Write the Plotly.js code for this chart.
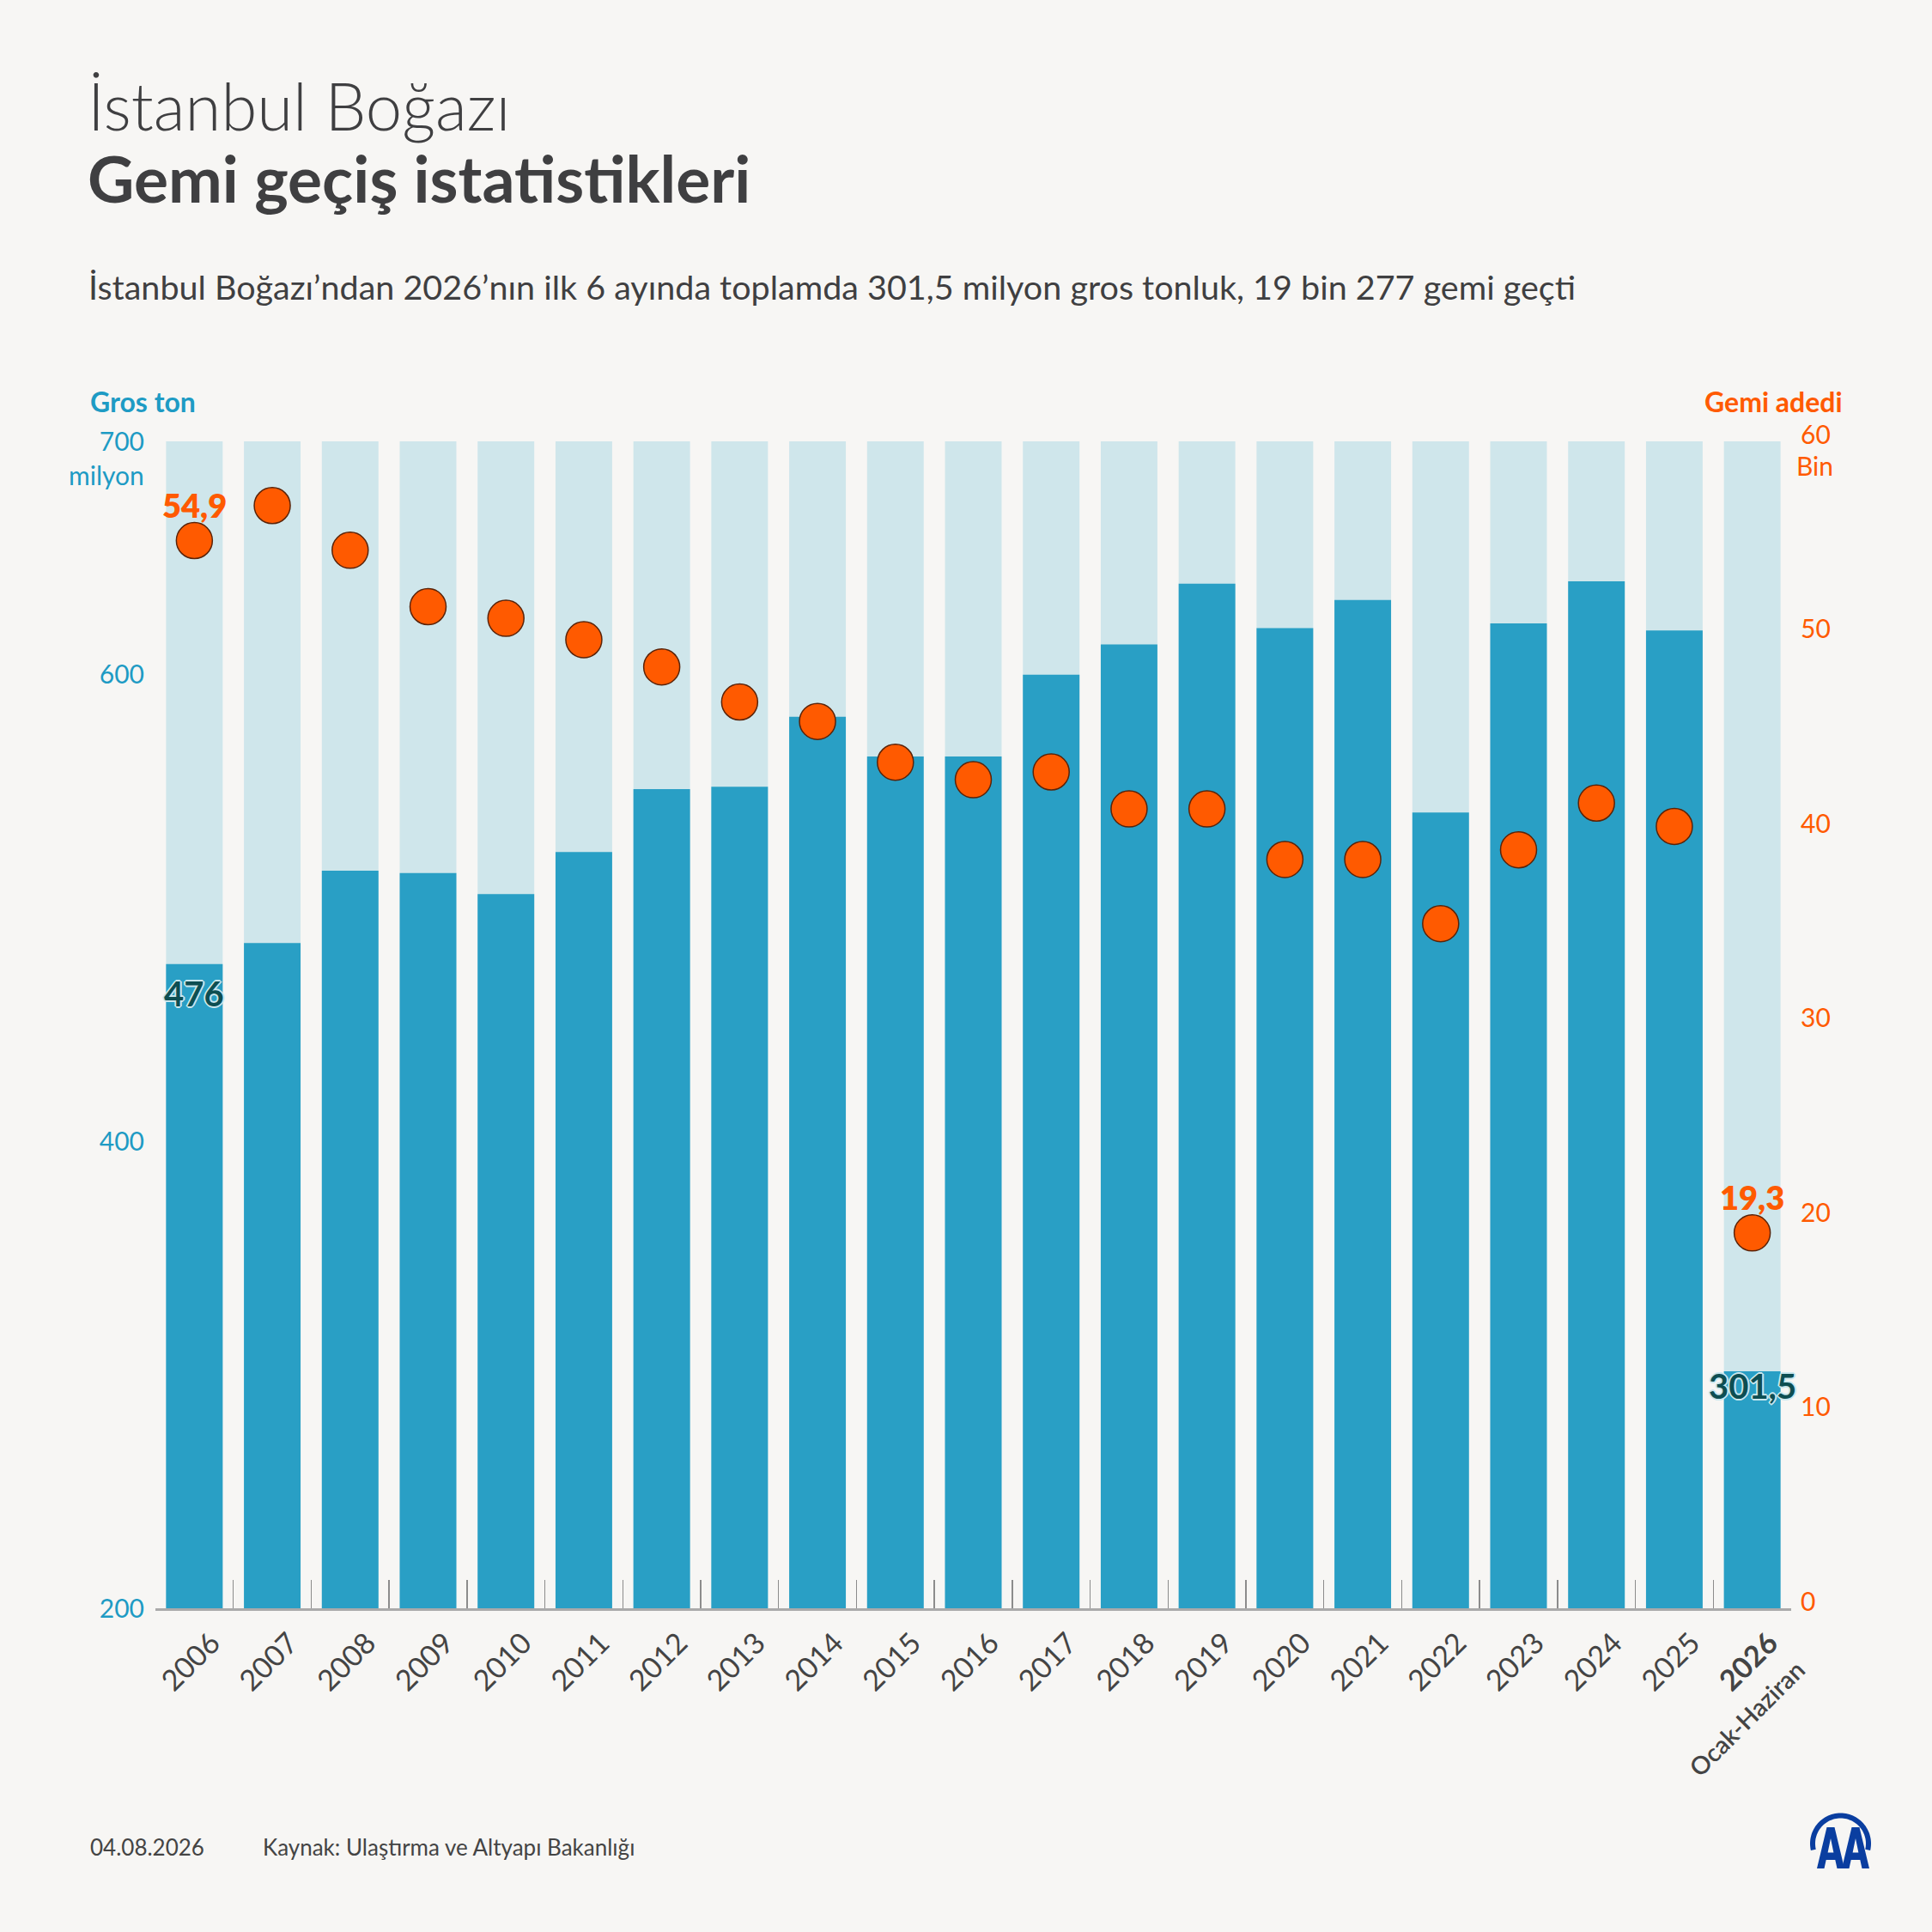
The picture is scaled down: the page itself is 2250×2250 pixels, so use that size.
<!DOCTYPE html>
<html>
<head>
<meta charset="utf-8">
<script src="https://cdn.plot.ly/plotly-3.0.1.min.js"></script>
<style>
  html, body { margin: 0; padding: 0; background: #f7f6f4; }
  #chart { width: 2250px; height: 2250px; }
</style>
</head>
<body>
<div id="chart"></div>
<script>
// ---------- data ----------
const years = ['2006','2007','2008','2009','2010','2011','2012','2013','2014','2015','2016','2017','2018','2019','2020','2021','2022','2023','2024','2025','2026'];
const yearTickText = ['2006','2007','2008','2009','2010','2011','2012','2013','2014','2015','2016','2017','2018','2019','2020','2021','2022','2023','2024','2025',
  '<b>2026</b><br><span style="font-size:29px;font-weight:600">Ocak-Haziran</span>'];
// gross tonnage, million
const grossTon = [476, 485, 516, 515, 506, 524, 551, 552, 582, 565, 565, 600, 613, 639, 620, 632, 541, 622, 640, 619, 301.5];
// number of ships, thousand
const shipCount = [54.9, 56.7, 54.4, 51.5, 50.9, 49.8, 48.4, 46.6, 45.6, 43.5, 42.6, 43.0, 41.1, 41.1, 38.5, 38.5, 35.2, 39.0, 41.4, 40.2, 19.3];
const grossMax = 700;
const leftTickVals = [200, 400, 600, 700];
const leftTickText = ['200', '400', '600', '700'];
const rightTickVals = [0, 10, 20, 30, 40, 50, 60];
const rightTickText = ['0', '10', '20', '30', '40', '50', '60'];

const titleText = 'İstanbul Boğazı';
const subTitleText = 'Gemi geçiş istatistikleri';
const descText = 'İstanbul Boğazı’ndan 2026’nın ilk 6 ayında toplamda 301,5 milyon gros tonluk, 19 bin 277 gemi geçti';
const dateText = '04.08.2026';
const sourceText = 'Kaynak: Ulaştırma ve Altyapı Bakanlığı';

// ---------- style ----------
const FONT = 'Lato, "Noto Sans", sans-serif';
const BG = '#f7f6f4';
const BLUE = '#299fc5';
const LIGHT = '#cfe6eb';
const BLUE_TXT = '#1e9bc4';
const ORANGE = '#ff5a00';
const DARK = '#3f3f41';
const TEAL = '#0d4e52';

const W = 2250, H = 2250;
const L = 181, R = 2086, T = 514, B = 1873;
const PW = R - L, PH = B - T;
const px = v => (v - L) / PW;
const py = v => (B - v) / PH;

const fmt = v => (Number.isInteger(v) ? String(v) : v.toFixed(1).replace('.', ','));
const lastIdx = years.length - 1;

const oc = '#c9e7ee';
const outline = `2px 0 0 ${oc}, -2px 0 0 ${oc}, 0 2px 0 ${oc}, 0 -2px 0 ${oc}, 1px 1px 0 ${oc}, -1px -1px 0 ${oc}, 1px -1px 0 ${oc}, -1px 1px 0 ${oc}`;

const traces = [
  {
    type: 'bar', x: years, y: years.map(() => grossMax),
    marker: { color: LIGHT, line: { width: 0 } },
    hoverinfo: 'skip', yaxis: 'y'
  },
  {
    type: 'bar', x: years, y: grossTon,
    marker: { color: BLUE, line: { width: 0 } },
    hoverinfo: 'skip', yaxis: 'y'
  },
  {
    type: 'scatter', mode: 'markers', x: years, y: shipCount, yaxis: 'y2',
    marker: { size: 42, color: ORANGE, line: { color: '#5a2308', width: 1.5 } },
    cliponaxis: false,
    hoverinfo: 'skip'
  }
];

// logo ring
function ringPath(cx, cy, rOut, rIn, a0, a1, n) {
  const pts = [];
  for (let i = 0; i <= n; i++) {
    const a = (a0 + (a1 - a0) * i / n) * Math.PI / 180;
    pts.push([cx + rOut * Math.cos(a), cy - rOut * Math.sin(a)]);
  }
  for (let i = n; i >= 0; i--) {
    const a = (a0 + (a1 - a0) * i / n) * Math.PI / 180;
    pts.push([cx + rIn * Math.cos(a), cy - rIn * Math.sin(a)]);
  }
  return 'M' + pts.map(p => px(p[0]).toFixed(5) + ',' + py(p[1]).toFixed(5)).join(' L') + ' Z';
}
function letterA(x0, y0) {
  const outer = [[0,48],[11.5,0],[20.5,0],[32,48],[23.5,48],[21.3,38],[10.7,38],[8.5,48]];
  const hole = [[12.6,29.5],[19.4,29.5],[16,13]];
  const toP = p => px(x0 + p[0]).toFixed(5) + ',' + py(y0 + p[1]).toFixed(5);
  return 'M' + outer.map(toP).join(' L') + ' Z M' + hole.map(toP).join(' L') + ' Z';
}
const LOGO = '#0a3ea0';
const shapes = [
  { type: 'path', xref: 'paper', yref: 'paper', path: ringPath(2143.5, 2147, 35.5, 29.5, 193, -13, 60), fillcolor: LOGO, line: { width: 0 } },
  { type: 'path', xref: 'paper', yref: 'paper', path: letterA(2116, 2128), fillcolor: LOGO, line: { width: 0 } },
  { type: 'path', xref: 'paper', yref: 'paper', path: letterA(2145, 2128), fillcolor: LOGO, line: { width: 0 } }
];

const ann = (text, x, y, size, color, opts) => Object.assign({
  text, x: px(x), y: py(y), xref: 'paper', yref: 'paper', showarrow: false,
  xanchor: 'left', yanchor: 'middle', font: { family: FONT, size, color }
}, opts || {});

const pointLabel = i => ({
  text: fmt(shipCount[i]), x: i, y: shipCount[i], xref: 'x', yref: 'y2',
  showarrow: false, xanchor: 'center', yanchor: 'middle', yshift: 42,
  font: { family: FONT, size: 38, color: ORANGE, weight: 800 }
});
const barLabel = (i, shift) => ({
  text: '<b>' + fmt(grossTon[i]) + '</b>', x: i, y: grossTon[i], xref: 'x', yref: 'y',
  showarrow: false, xanchor: 'center', yanchor: 'top', yshift: shift,
  font: { family: FONT, size: 40, color: TEAL, shadow: outline }
});

const annotations = [
  ann(titleText, 100, 122, 76, DARK, { font: { family: FONT, size: 76, color: DARK, weight: 300 } }),
  ann('<b>' + subTitleText + '</b>', 100, 207, 75, DARK),
  ann(descText, 101, 333, 39.5, DARK),
  ann('<b>Gros ton</b>', 103, 468, 32, BLUE_TXT),
  ann('<b>Gemi adedi</b>', 2148, 468, 32, ORANGE, { xanchor: 'right' }),
  ann('milyon', 170, 553, 30, BLUE_TXT, { xanchor: 'right' }),
  ann('Bin', 2090, 542, 30, ORANGE),
  ann(dateText, 103, 2151, 26, '#444'),
  ann(sourceText, 304, 2151, 26, '#444'),
  pointLabel(0), pointLabel(lastIdx),
  barLabel(0, -8), barLabel(lastIdx, 9)
];

const layout = {
  width: W, height: H,
  paper_bgcolor: BG, plot_bgcolor: BG,
  margin: { l: L, r: W - R, t: T, b: H - B, pad: 0 },
  showlegend: false,
  barmode: 'overlay',
  bargap: 0.273,
  font: { family: FONT, color: DARK },
  xaxis: {
    type: 'category', categoryorder: 'array', categoryarray: years,
    range: [-0.5, years.length - 0.5], autorange: false,
    tickvals: years, ticktext: yearTickText,
    tickangle: -45, tickfont: { family: FONT, size: 34, color: '#444' },
    ticks: 'inside', tickson: 'boundaries', ticklen: 33, tickwidth: 1.5, tickcolor: '#8c8c8c',
    showline: true, linecolor: '#aaaaaa', linewidth: 3,
    showgrid: false, zeroline: false, ticklabelstandoff: 4, ticklabelshift: 20,
    fixedrange: true
  },
  yaxis: {
    range: [200, grossMax], autorange: false, tickvals: leftTickVals, ticktext: leftTickText,
    tickfont: { family: FONT, size: 30, color: BLUE_TXT },
    showgrid: false, zeroline: false, showline: false, ticks: '', ticklabelstandoff: 12,
    fixedrange: true
  },
  yaxis2: {
    overlaying: 'y', side: 'right', range: [0, 60], autorange: false, tickvals: rightTickVals, ticktext: rightTickText,
    tickfont: { family: FONT, size: 30, color: ORANGE },
    showgrid: false, zeroline: false, showline: false, ticks: '', ticklabelstandoff: 10, ticklabelshift: -8,
    fixedrange: true
  },
  shapes, annotations
};

Plotly.newPlot('chart', traces, layout, { staticPlot: true, displayModeBar: false });
</script>
</body>
</html>
